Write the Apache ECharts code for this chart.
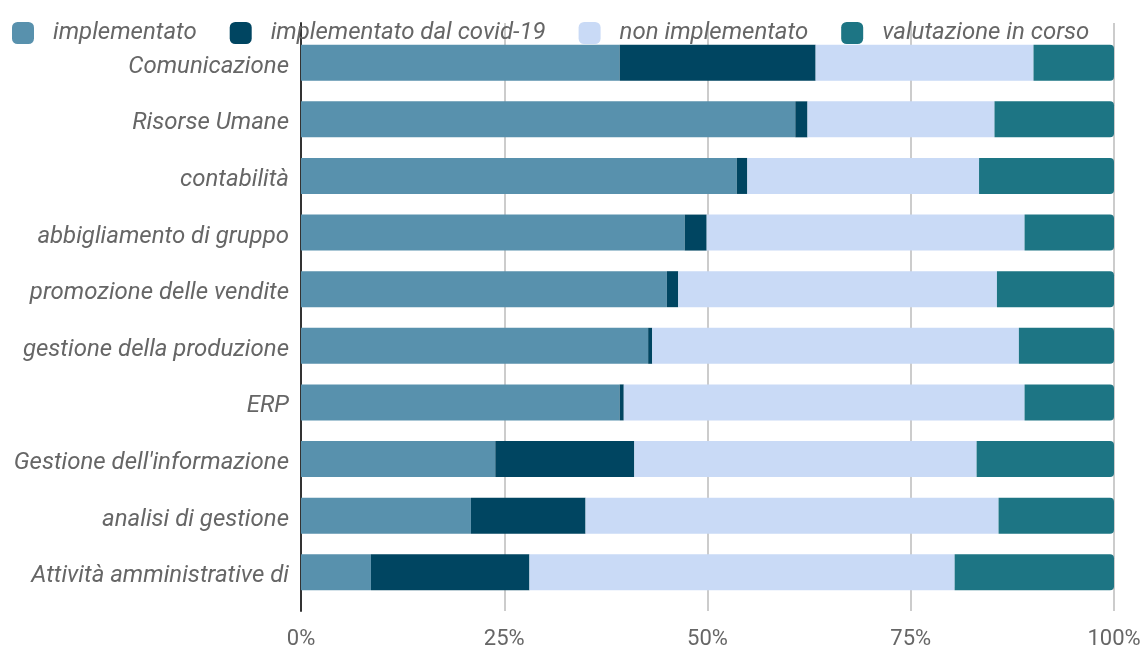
<!DOCTYPE html>
<html>
<head>
<meta charset="utf-8">
<script src="https://cdn.jsdelivr.net/npm/echarts@6/dist/echarts.min.js"></script>
<style>
  html, body { margin: 0; padding: 0; background: #fff; }
  #chart { width: 1144px; height: 650px; }
</style>
</head>
<body>
<div id="chart"></div>
<script>
// Areas of digital adoption, top to bottom
const categories = [
  'Comunicazione',
  'Risorse Umane',
  'contabilità',
  'abbigliamento di gruppo',
  'promozione delle vendite',
  'gestione della produzione',
  'ERP',
  "Gestione dell'informazione",
  'analisi di gestione',
  'Attività amministrative di'
];

// Share of respondents (%) per status
const implementato      = [39.2, 60.8, 53.6, 47.2, 45.0, 42.7, 39.2, 23.9, 20.9, 8.6];
const implementatoCovid = [24.1,  1.5,  1.3,  2.7,  1.4,  0.5,  0.5, 17.1, 14.1, 19.5];
const nonImplementato   = [26.8, 23.0, 28.5, 39.1, 39.2, 45.1, 49.3, 42.1, 50.8, 52.3];
const valutazione       = [ 9.9, 14.7, 16.6, 11.0, 14.4, 11.7, 11.0, 16.9, 14.2, 19.6];

const xTicks = ['0%', '25%', '50%', '75%', '100%'];

const seriesNames = ['implementato', 'implementato dal covid-19', 'non implementato', 'valutazione in corso'];
const seriesColors = ['#5891ad', '#004561', '#c9daf6', '#1d7584'];
const seriesData = [implementato, implementatoCovid, nonImplementato, valutazione];

const font = 'Roboto, "Noto Sans", sans-serif';
const grey = '#666666';

const chart = echarts.init(document.getElementById('chart'), null, { renderer: 'canvas' });

const series = seriesNames.map((name, i) => ({
  name,
  type: 'bar',
  stack: 'total',
  xAxisIndex: 1,
  yAxisIndex: 1,
  barWidth: 36,
  itemStyle: {
    color: seriesColors[i],
    borderRadius: i === seriesNames.length - 1 ? [0, 4, 4, 0] : 0
  },
  emphasis: { disabled: true },
  data: seriesData[i]
}));

chart.setOption({
  animation: false,
  textStyle: { fontFamily: font },
  legend: {
    top: 16,
    left: 7,
    itemWidth: 22,
    itemHeight: 22,
    itemGap: 33,
    icon: 'roundRect',
    textStyle: {
      fontFamily: font,
      fontSize: 24,
      fontStyle: 'italic',
      color: grey,
      padding: [0, 0, 0, 14]
    },
    data: seriesNames
  },
  grid: [
    // frame for gridlines and the value axis
    { left: 301, right: 30, top: 23, bottom: 38, containLabel: false },
    // bars
    { left: 301, right: 30, top: 34.4, height: 566.2, containLabel: false }
  ],
  xAxis: [
    {
      gridIndex: 0,
      type: 'value',
      min: 0,
      max: 100,
      interval: 25,
      axisLine: { show: false },
      axisTick: { show: false },
      splitLine: { show: true, lineStyle: { color: '#cccccc', width: 2 } },
      axisLabel: {
        color: grey,
        fontSize: 22,
        margin: 17,
        fontFamily: font,
        formatter: (v) => xTicks[Math.round(v / 25)]
      }
    },
    {
      gridIndex: 1,
      type: 'value',
      min: 0,
      max: 100,
      show: false
    }
  ],
  yAxis: [
    {
      gridIndex: 0,
      type: 'value',
      min: 0,
      max: 1,
      axisLine: { show: true, onZero: false, lineStyle: { color: '#333333', width: 2 } },
      axisTick: { show: false },
      axisLabel: { show: false },
      splitLine: { show: false }
    },
    {
      gridIndex: 1,
      type: 'category',
      inverse: true,
      data: categories,
      axisLine: { show: false },
      axisTick: { show: false },
      splitLine: { show: false },
      axisLabel: {
        margin: 12,
        formatter: (v) => '{t|' + v + '}',
        rich: {
          t: {
            color: grey,
            fontSize: 24,
            fontStyle: 'italic',
            fontFamily: font,
            padding: [8, 0, 0, 0]
          }
        }
      }
    }
  ],
  series
});
</script>
</body>
</html>
